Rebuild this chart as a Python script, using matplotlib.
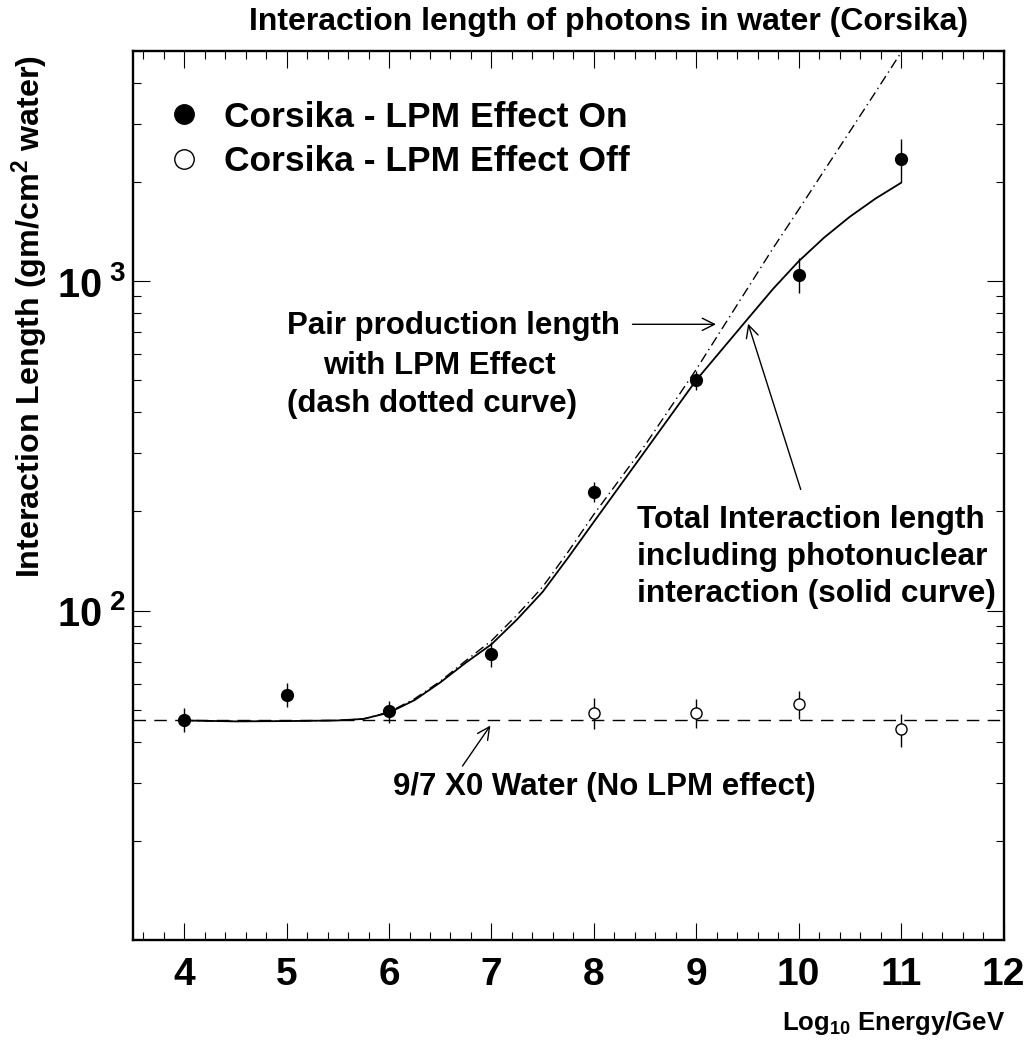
import math
import matplotlib
matplotlib.use('Agg')
import matplotlib.pyplot as plt
from matplotlib.ticker import LogLocator, MultipleLocator, FixedLocator, FuncFormatter, NullFormatter
from matplotlib.lines import Line2D

plt.rcParams['font.family'] = 'Liberation Sans'
plt.rcParams['font.weight'] = 'bold'
plt.rcParams['mathtext.fontset'] = 'custom'
plt.rcParams['mathtext.rm'] = 'Liberation Sans:bold'
plt.rcParams['mathtext.bf'] = 'Liberation Sans:bold'
plt.rcParams['mathtext.it'] = 'Liberation Sans:bold'
plt.rcParams['mathtext.default'] = 'bf'

# Corsika points (log10 E/GeV, interaction length in g/cm^2)
energy_on = [4, 5, 6, 7, 8, 9, 10, 11]
lpm_on = [46.7, 55.6, 49.4, 74.0, 229.6, 501, 1048, 2355]
lpm_on_err = [4.0, 4.6, 3.8, 6.4, 16.5, 32.5, 130, 350]

energy_off = [8, 9, 10, 11]
lpm_off = [49.0, 49.0, 52.0, 43.6]
lpm_off_err = [5.4, 4.9, 5.2, 5.1]

x0_water = 46.4  # 9/7 X0

# curves
curve_x = [4.0, 4.5, 5.0, 5.5, 5.75, 6.0, 6.25, 6.5, 6.75, 7.0, 7.25, 7.5,
           7.75, 8.0, 8.5, 9.0, 9.5, 9.75, 10.0, 10.25, 10.5, 10.75, 11.0]
total_len = [46.4, 46.1, 46.2, 46.4, 46.9, 49.0, 53.5, 60.5, 69.5, 79.0, 94, 114,
             145, 186, 305, 501, 767, 948, 1150, 1358, 1570, 1782, 1990]
pair_len = [46.4, 46.1, 46.2, 46.4, 46.9, 49.2, 54.0, 61.0, 70.5, 81.0, 97, 118,
            151, 196, 318, 540, 950, 1260, 1650, 2170, 2850, 3750, 4950]

W, H = 1031, 1051
fig = plt.figure(figsize=(W / 100, H / 100), dpi=100)
ax = fig.add_axes([133 / W, 1 - 940 / H, (1003.5 - 133) / W, (940 - 51) / H])

ax.axhline(x0_water, color='k', lw=1.0, ls=(0, (9, 6)))
ax.plot(curve_x, total_len, color='k', lw=1.3)
ax.plot(curve_x, pair_len, color='k', lw=1.0, ls=(0, (7, 3, 1, 3)))

ax.errorbar(energy_on, lpm_on, yerr=lpm_on_err, fmt='o', color='k', ms=8.5,
            elinewidth=1.0, capsize=0, zorder=5)
ax.errorbar(energy_off, lpm_off, yerr=lpm_off_err, fmt='o', color='k', mfc='white',
            mec='k', mew=1.0, ms=8, elinewidth=1.0, capsize=0, zorder=5)

ax.set_xlim(3.5, 12)
ax.set_yscale('log')
ax.set_ylim(10, 5000)

ax.xaxis.set_major_locator(MultipleLocator(1))
ax.xaxis.set_minor_locator(MultipleLocator(0.2))
ax.yaxis.set_major_locator(FixedLocator([100, 1000]))
ax.yaxis.set_minor_locator(LogLocator(base=10, subs=[2, 3, 4, 5, 6, 7, 8, 9]))
ax.yaxis.set_minor_formatter(NullFormatter())
ax.yaxis.set_major_formatter(FuncFormatter(lambda v, p: r'$10^{\ %d}$' % round(math.log10(v))))

ax.tick_params(which='both', direction='in', top=True, right=True, width=0.8)
ax.tick_params(which='major', length=12)
ax.tick_params(which='minor', length=6)
ax.tick_params(axis='x', labelsize=28, pad=12)
ax.tick_params(axis='y', labelsize=28.5, pad=5)
for s in ax.spines.values():
    s.set_linewidth(1.7)

handles = [Line2D([], [], marker='o', ls='none', color='k', ms=14),
           Line2D([], [], marker='o', ls='none', mfc='white', mec='k', mew=1.0, ms=14)]
ax.legend(handles, ['Corsika - LPM Effect On', 'Corsika - LPM Effect Off'],
          loc='upper left', bbox_to_anchor=(0.042, 0.944), frameon=False, fontsize=25.5,
          handlelength=0.8, handletextpad=0.75, borderpad=0, borderaxespad=0,
          labelspacing=0.33)

# annotations
ax.text(5.004, 690, 'Pair production length', fontsize=22.5, ha='left', va='baseline')
ax.text(5.356, 523, 'with LPM Effect', fontsize=22.5, ha='left', va='baseline')
ax.text(5.004, 401, '(dash dotted curve)', fontsize=22.5, ha='left', va='baseline')
ax.annotate('', xy=(9.22, 740), xytext=(8.35, 740),
            arrowprops=dict(arrowstyle='->', lw=1.0, mutation_scale=22, color='k'))

ax.text(8.424, 178, 'Total Interaction length', fontsize=22.8, ha='left', va='baseline')
ax.text(8.424, 138, 'including photonuclear', fontsize=22.8, ha='left', va='baseline')
ax.text(8.424, 106.5, 'interaction (solid curve)', fontsize=22.8, ha='left', va='baseline')
ax.annotate('', xy=(9.498, 757), xytext=(10.028, 229),
            arrowprops=dict(arrowstyle='->', lw=1.0, mutation_scale=22, color='k'))

ax.text(8.1, 27.6, '9/7 X0 Water (No LPM effect)', fontsize=22.5, ha='center', va='baseline')
ax.annotate('', xy=(7.005, 45.5), xytext=(6.702, 33.2),
            arrowprops=dict(arrowstyle='->', lw=1.0, mutation_scale=22, color='k'))

fig.text(609 / W, 1 - 22 / H, 'Interaction length of photons in water (Corsika)',
         fontsize=23, ha='center', va='center')
fig.text(30 / W, 1 - 55 / H, r'Interaction Length (gm/cm$^{2}$ water)', fontsize=23.2,
         rotation=90, ha='center', va='top')
fig.text(1005 / W, 1 - 1030 / H, r'Log$_{10}$ Energy/GeV', fontsize=18.5,
         ha='right', va='baseline')

fig.savefig('out.png', dpi=100)
